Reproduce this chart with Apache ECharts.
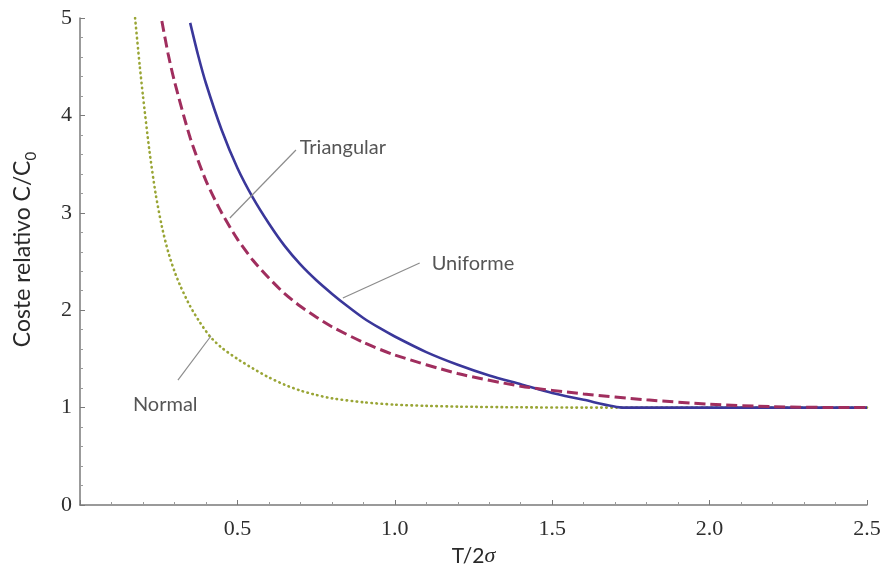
<!DOCTYPE html>
<html>
<head>
<meta charset="utf-8">
<script src="https://cdn.jsdelivr.net/npm/echarts@6/dist/echarts.min.js"></script>
<style>html,body{margin:0;padding:0;background:#fff}#c{width:890px;height:579px}</style>
</head>
<body>
<div id="c"></div>
<script>
// ---- data ----
const uniformeX = [0.35,0.375,0.4,0.45,0.5,0.55,0.6,0.65,0.7,0.75,0.8,0.85,0.9,0.95,1.0,1.1,1.2,1.3,1.4,1.5,1.6,1.73,2.0,2.5];
const uniformeY = [4.95,4.62,4.33,3.85,3.46,3.15,2.89,2.66,2.47,2.31,2.17,2.04,1.92,1.82,1.73,1.57,1.44,1.33,1.24,1.15,1.08,1.0,1.0,1.0];

const triangularX = [0.26,0.28,0.3,0.35,0.4,0.45,0.5,0.55,0.6,0.65,0.7,0.75,0.8,0.9,1.0,1.2,1.4,1.6,1.8,2.0,2.2,2.45,2.5];
const triangularY = [4.97,4.63,4.35,3.77,3.33,3.0,2.73,2.51,2.33,2.17,2.04,1.93,1.83,1.67,1.54,1.35,1.22,1.14,1.08,1.035,1.01,1.0,1.0];

const normalX = [0.175,0.19,0.2,0.22,0.24,0.26,0.28,0.3,0.32,0.35,0.38,0.413,0.45,0.5,0.55,0.6,0.65,0.7,0.75,0.8,0.9,1.0,1.1,1.2,1.4,1.6,2.0,2.5];
const normalY = [5.0,4.5,4.2,3.65,3.2,2.86,2.6,2.4,2.24,2.04,1.88,1.73,1.615,1.5,1.4,1.31,1.235,1.175,1.13,1.095,1.055,1.03,1.018,1.01,1.003,1.0,1.0,1.0];

// annotation labels and leader lines (data coordinates)
const annoNames = ['Triangular','Uniforme','Normal'];
const annoText = [[0.698,3.665],[1.117,2.474],[0.168,1.027]];
const annoLeaderFrom = [[0.686,3.645],[1.079,2.485],[0.311,1.283]];
const annoLeaderTo = [[0.476,2.947],[0.835,2.125],[0.416,1.735]];

const xTicks = {min:0, max:2.5, interval:0.5};
const yTicks = {min:0, max:5, interval:1};

const zip = (xs, ys) => xs.map((x,i)=>[x, ys[i]]);

const chart = echarts.init(document.getElementById('c'), null, {renderer:'canvas'});

const axisCommon = {
  axisLine:{show:true, lineStyle:{color:'#7a7a7a', width:1.5}},
  axisTick:{show:true, inside:true, length:5, lineStyle:{color:'#7a7a7a', width:1}},
  minorTick:{show:true, splitNumber:5, length:3, lineStyle:{color:'#9a9a9a', width:1}},
  splitLine:{show:false},
  axisLabel:{color:'#2e2e2e', fontFamily:'Liberation Serif', fontSize:22}
};

const leaderSeries = annoNames.map((n,i)=>({
  type:'line', name:'leader'+i, data:[annoLeaderFrom[i], annoLeaderTo[i]],
  symbol:'none', silent:true, z:5,
  lineStyle:{color:'#8c8c8c', width:1.2}
}));

const option = {
  animation:false,
  backgroundColor:'#fff',
  grid:{left:80, right:23, top:18, bottom:74, containLabel:false},
  xAxis:Object.assign({}, axisCommon, {
    type:'value', min:xTicks.min, max:xTicks.max, interval:xTicks.interval,
    axisLabel:Object.assign({}, axisCommon.axisLabel, {margin:13, formatter:v=> v===0 ? '' : v.toFixed(1)}),
    name:'{a|T/2}{i|σ}', nameLocation:'middle', nameGap:32,
    nameTextStyle:{rich:{
      a:{fontFamily:'Lato', fontSize:21, color:'#2a2a2a'},
      i:{fontFamily:'Liberation Serif', fontStyle:'italic', fontSize:22, color:'#2a2a2a'}
    }}
  }),
  yAxis:Object.assign({}, axisCommon, {
    type:'value', min:yTicks.min, max:yTicks.max, interval:yTicks.interval,
    axisLabel:Object.assign({}, axisCommon.axisLabel, {margin:8}),
    name:'{a|Coste relativo C/C}{s|0}', nameLocation:'middle', nameRotate:90, nameGap:46,
    nameTextStyle:{padding:[0,0,0,24], rich:{
      a:{fontFamily:'Lato', fontSize:23, color:'#2a2a2a', verticalAlign:'bottom'},
      s:{fontFamily:'Lato', fontSize:15, color:'#2a2a2a', verticalAlign:'bottom', padding:[0,0,-5,0]}
    }}
  }),
  series:[
    {type:'line', name:'Normal', data:zip(normalX, normalY), symbol:'none', smooth:0.25, z:2,
      lineStyle:{color:'#99a535', width:2.6, type:[0.5,4.5], cap:'round'}},
    {type:'line', name:'Uniforme', data:zip(uniformeX, uniformeY), symbol:'none', smooth:0.25, z:3,
      lineStyle:{color:'#3a379a', width:2.6}},
    {type:'line', name:'Triangular', data:zip(triangularX, triangularY), symbol:'none', smooth:0.25, z:4,
      lineStyle:{color:'#a02e5e', width:3, type:[11,5]}},
    ...leaderSeries,
    {type:'scatter', name:'labels', data:annoText.map((p,i)=>({name:annoNames[i], value:p})),
      symbolSize:0, silent:true, z:6,
      label:{show:true, position:'right', distance:0, formatter:p=>p.name,
        fontFamily:'Lato', fontSize:20, color:'#2a2a2a'}}
  ]
};
chart.setOption(option);
</script>
</body>
</html>
